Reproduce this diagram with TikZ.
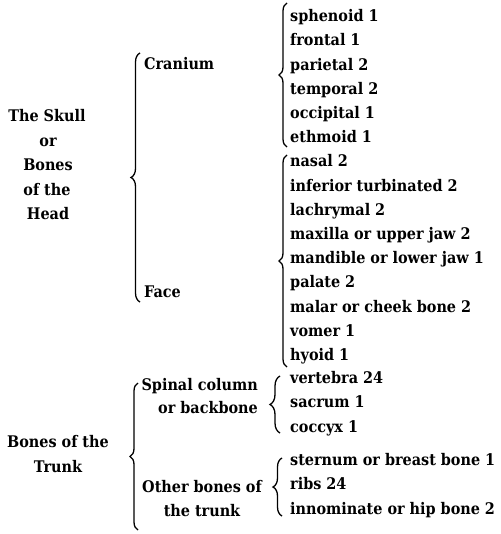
\documentclass[tikz,border=0pt]{standalone}
\usepackage{fontspec}
\setmainfont{DejaVu Serif Condensed}[BoldFont={* Bold}]
\usetikzlibrary{decorations.pathreplacing}
\tikzset{
  txt/.style={inner sep=0pt, font=\fontsize{16}{18}\selectfont\bfseries},
  item/.style={txt, anchor=base west},
  ctr/.style={txt, anchor=base},
  rgt/.style={txt, anchor=base east},
  bracestyle/.style={decorate, decoration={brace, amplitude=#1}, line width=1.3pt},
}
\begin{document}
\begin{tikzpicture}[x=1pt,y=-1pt]
\useasboundingbox (0,0) rectangle (500,534);
% left labels
\node[ctr] (s1) at (47,122) {The Skull};
\node[ctr] (s2) at (48,146.5) {or};
\node[ctr] (s3) at (48,171) {Bones};
\node[ctr] (s4) at (47,195.5) {of the};
\node[ctr] (s5) at (48,220) {Head};
\node[ctr] (t1) at (58,447) {Bones of the};
\node[ctr] (t2) at (58,472) {Trunk};
% middle labels
\node[item] (cran) at (144,70) {Cranium};
\node[item] (face) at (144,297) {Face};
\node[rgt] (sp1) at (258,390) {Spinal column};
\node[rgt] (sp2) at (258,413) {or backbone};
\node[ctr] (ob1) at (202,492) {Other bones of};
\node[ctr] (ob2) at (202,516) {the trunk};
% skull items
\foreach \n/\t [count=\i from 0] in {
  c1/sphenoid 1, c2/frontal 1, c3/parietal 2, c4/temporal 2, c5/occipital 1, c6/ethmoid 1,
  f1/nasal 2, f2/inferior turbinated 2, f3/lachrymal 2, f4/maxilla or upper jaw 2,
  f5/mandible or lower jaw 1, f6/palate 2, f7/malar or cheek bone 2, f8/vomer 1, f9/hyoid 1}
  \node[item] (\n) at (290,{21.7+24.2*\i}) {\t};
% trunk items
\node[item] (v1) at (290,383.5) {vertebra 24};
\node[item] (v2) at (290,407.8) {sacrum 1};
\node[item] (v3) at (290,432) {coccyx 1};
\node[item] (o1) at (290,465.5) {sternum or breast bone 1};
\node[item] (o2) at (290,489.7) {ribs 24};
\node[item] (o3) at (290,514) {innominate or hip bone 2};
% braces
\coordinate (bA1) at (140,302); \coordinate (bA2) at (140,53);
\coordinate (bB1) at (287,147); \coordinate (bB2) at (287,3);
\coordinate (bC1) at (287,367); \coordinate (bC2) at (287,155);
\coordinate (bD1) at (138,530); \coordinate (bD2) at (138,383);
\coordinate (bE1) at (280,433); \coordinate (bE2) at (280,376);
\coordinate (bF1) at (282,516); \coordinate (bF2) at (282,458);
\draw[bracestyle=9pt] (bA1) -- (bA2);
\draw[bracestyle=8pt] (bB1) -- (bB2);
\draw[bracestyle=8pt] (bC1) -- (bC2);
\draw[bracestyle=8pt] (bD1) -- (bD2);
\draw[bracestyle=10pt] (bE1) -- (bE2);
\draw[bracestyle=9pt] (bF1) -- (bF2);
\end{tikzpicture}
\end{document}
